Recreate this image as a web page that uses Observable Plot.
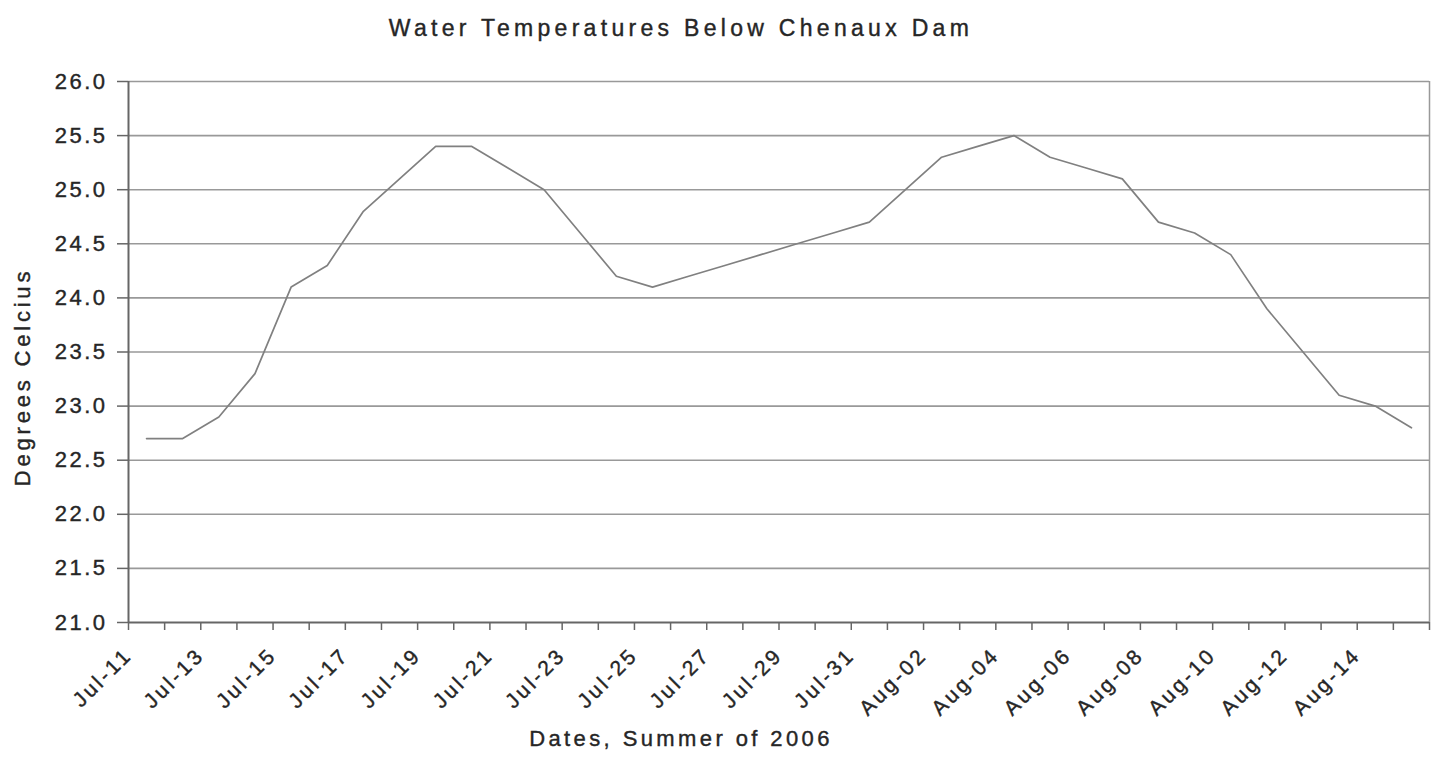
<!DOCTYPE html>
<html>
<head>
<meta charset="utf-8">
<script src="https://cdn.jsdelivr.net/npm/d3@7"></script>
<script src="https://cdn.jsdelivr.net/npm/@observablehq/plot@0.6"></script>
<style>
  body { margin: 0; background: #fff; }
  #chart svg { display: block; }
  #chart svg text { stroke: #262626; stroke-width: 0.4px; }
</style>
</head>
<body>
<div id="chart"></div>
<script>
const title = "Water Temperatures Below Chenaux Dam";
const xLabel = "Dates, Summer of 2006";
const yLabel = "Degrees Celcius";

const dates = [
  "2006-07-11","2006-07-12","2006-07-13","2006-07-14","2006-07-15","2006-07-16",
  "2006-07-17","2006-07-18","2006-07-19","2006-07-20","2006-07-21","2006-07-22",
  "2006-07-23","2006-07-24","2006-07-25","2006-07-26","2006-07-27","2006-07-28",
  "2006-07-29","2006-07-30","2006-07-31","2006-08-01","2006-08-02","2006-08-03",
  "2006-08-04","2006-08-05","2006-08-06","2006-08-07","2006-08-08","2006-08-09",
  "2006-08-10","2006-08-11","2006-08-12","2006-08-13","2006-08-14","2006-08-15"
];

const temps = [
  22.7, 22.7, 22.9, 23.3, 24.1, 24.3,
  24.8, 25.1, 25.4, 25.4, 25.2, 25.0,
  24.6, 24.2, 24.1, 24.2, 24.3, 24.4,
  24.5, 24.6, 24.7, 25.0, 25.3, 25.4,
  25.5, 25.3, 25.2, 25.1, 24.7, 24.6,
  24.4, 23.9, 23.5, 23.1, 23.0, 22.8
];

const tickLabels = [
  "Jul-11","Jul-13","Jul-15","Jul-17","Jul-19","Jul-21","Jul-23","Jul-25","Jul-27",
  "Jul-29","Jul-31","Aug-02","Aug-04","Aug-06","Aug-08","Aug-10","Aug-12","Aug-14"
];

const yTicks = [21.0, 21.5, 22.0, 22.5, 23.0, 23.5, 24.0, 24.5, 25.0, 25.5, 26.0];

const parse = d3.utcParse("%Y-%m-%d");
const fmt = d3.utcFormat("%b-%d");

// each day occupies one category slot: boundaries at midnight, the value at noon
const dayStarts = dates.map(parse);
const endDay = d3.utcDay.offset(dayStarts[dayStarts.length - 1], 1);
const boundaries = [...dayStarts, endDay];
const data = dates.map((d, i) => ({date: d3.utcHour.offset(parse(d), 12), temp: temps[i]}));
const labelTicks = tickLabels.map(l => dayStarts.find(d => fmt(d) === l));

const chart = Plot.plot({
  width: 1437,
  height: 758,
  marginLeft: 128,
  marginRight: 8,
  marginTop: 81,
  marginBottom: 136,
  style: {
    fontFamily: "'Liberation Sans', Arial, sans-serif",
    fontSize: "22px",
    color: "#262626",
    background: "#fff",
    overflow: "visible"
  },
  x: {type: "utc", domain: [dayStarts[0], endDay]},
  y: {domain: [21, 26]},
  marks: [
    Plot.ruleY(yTicks.slice(1), {y: d => d, stroke: "#999", strokeWidth: 1.6}),
    Plot.ruleX([endDay], {stroke: "#999", strokeWidth: 1.5}),
    Plot.line(data, {x: "date", y: "temp", stroke: "#808080", strokeWidth: 1.7}),
    Plot.ruleX([dayStarts[0]], {stroke: "#666", strokeWidth: 2}),
    Plot.ruleY([21], {stroke: "#666", strokeWidth: 2}),
    Plot.axisY({ticks: yTicks, tickFormat: d => d.toFixed(1), tickSize: 11, tickPadding: 10,
                stroke: "#666", strokeWidth: 1.5, label: null, fontSize: 22}),
    Plot.axisX({ticks: boundaries, tickSize: 8, tickFormat: () => "", stroke: "#666",
                strokeWidth: 1.5, label: null}),
    Plot.axisX({ticks: labelTicks, tickSize: 0, tickPadding: 29, tickRotate: -45,
                tickFormat: fmt, label: null, fontSize: 21}),
    Plot.text([title], {frameAnchor: "top", text: d => d, dx: -98, dy: -53,
                        lineAnchor: "middle", fontSize: 23}),
    Plot.text([yLabel], {frameAnchor: "left", text: d => d, rotate: -90, dx: -106, dy: 25,
                         textAnchor: "middle", lineAnchor: "middle", fontSize: 22}),
    Plot.text([xLabel], {frameAnchor: "bottom", text: d => d, dx: -98, dy: 116,
                         textAnchor: "middle", lineAnchor: "middle", fontSize: 22})
  ]
});

const sel = d3.select(chart);
sel.selectAll("text").style("letter-spacing", "3px");
sel.selectAll("text").filter(function() { return this.textContent === title; })
  .style("letter-spacing", "4.3px");
sel.selectAll("text").filter(function() { return /^\d\d\.\d$/.test(this.textContent); })
  .style("letter-spacing", "2.5px");
sel.selectAll("text").filter(function() { return this.textContent === xLabel; })
  .style("letter-spacing", "3.4px");
sel.selectAll("text").filter(function() { return this.textContent === yLabel; })
  .style("letter-spacing", "3.8px");

document.getElementById("chart").appendChild(chart);
</script>
</body>
</html>
